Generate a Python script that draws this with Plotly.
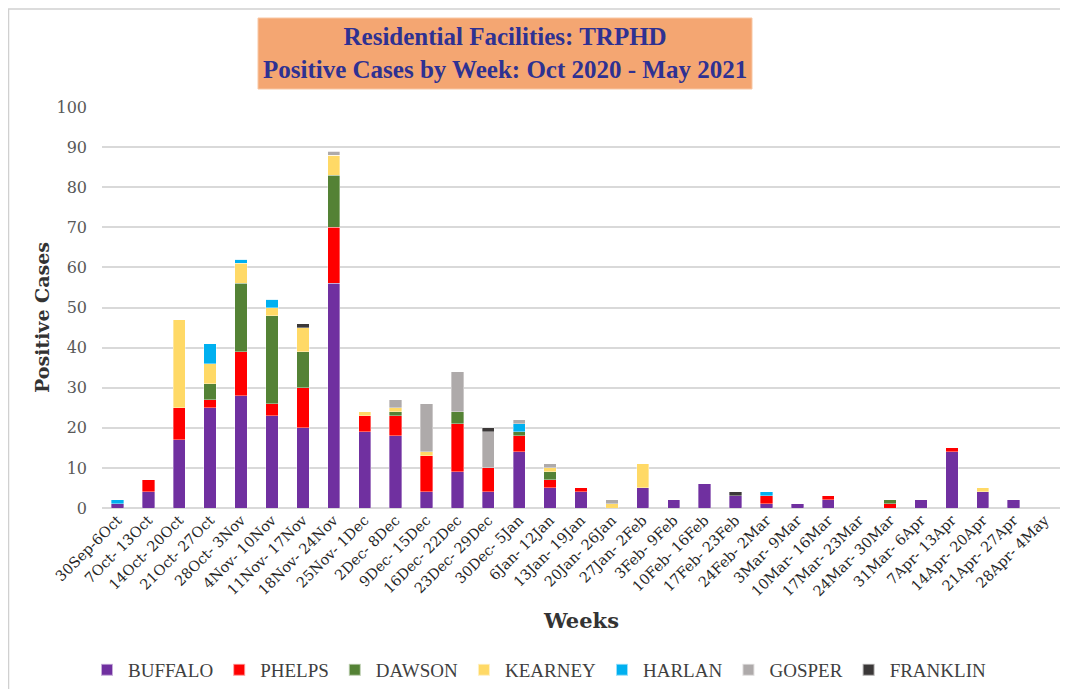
import plotly.graph_objects as go

weeks = ["30Sep-6Oct", "7Oct- 13Oct", "14Oct- 20Oct", "21Oct- 27Oct", "28Oct- 3Nov",
         "4Nov- 10Nov", "11Nov- 17Nov", "18Nov- 24Nov", "25Nov- 1Dec", "2Dec- 8Dec",
         "9Dec- 15Dec", "16Dec- 22Dec", "23Dec- 29Dec", "30Dec- 5Jan", "6Jan- 12Jan",
         "13Jan- 19Jan", "20Jan- 26Jan", "27Jan- 2Feb", "3Feb- 9Feb", "10Feb- 16Feb",
         "17Feb- 23Feb", "24Feb- 2Mar", "3Mar- 9Mar", "10Mar- 16Mar", "17Mar- 23Mar",
         "24Mar- 30Mar", "31Mar- 6Apr", "7Apr- 13Apr", "14Apr- 20Apr", "21Apr- 27Apr",
         "28Apr- 4May"]

buffalo  = [1, 4, 17, 25, 28, 23, 20, 56, 19, 18, 4, 9, 4, 14, 5, 4, 0, 5, 2, 6, 3, 1, 1, 2, 0, 0, 2, 14, 4, 2, 0]
phelps   = [0, 3, 8, 2, 11, 3, 10, 14, 4, 5, 9, 12, 6, 4, 2, 1, 0, 0, 0, 0, 0, 2, 0, 1, 0, 1, 0, 1, 0, 0, 0]
dawson   = [0, 0, 0, 4, 17, 22, 9, 13, 0, 1, 0, 3, 0, 1, 2, 0, 0, 0, 0, 0, 0, 0, 0, 0, 0, 1, 0, 0, 0, 0, 0]
kearney  = [0, 0, 22, 5, 5, 2, 6, 5, 1, 1, 1, 0, 0, 0, 1, 0, 1, 6, 0, 0, 0, 0, 0, 0, 0, 0, 0, 0, 1, 0, 0]
harlan   = [1, 0, 0, 5, 1, 2, 0, 0, 0, 0, 0, 0, 0, 2, 0, 0, 0, 0, 0, 0, 0, 1, 0, 0, 0, 0, 0, 0, 0, 0, 0]
gosper   = [0, 0, 0, 0, 0, 0, 0, 1, 0, 2, 12, 10, 9, 1, 1, 0, 1, 0, 0, 0, 0, 0, 0, 0, 0, 0, 0, 0, 0, 0, 0]
franklin = [0, 0, 0, 0, 0, 0, 1, 0, 0, 0, 0, 0, 1, 0, 0, 0, 0, 0, 0, 0, 1, 0, 0, 0, 0, 0, 0, 0, 0, 0, 0]

series = [
    ("BUFFALO", buffalo, "#7030A0"),
    ("PHELPS", phelps, "#FF0000"),
    ("DAWSON", dawson, "#548235"),
    ("KEARNEY", kearney, "#FFD966"),
    ("HARLAN", harlan, "#00B0F0"),
    ("GOSPER", gosper, "#AEAAAA"),
    ("FRANKLIN", franklin, "#3B3838"),
]

SERIF = "DejaVu Serif, serif"
TIMES = "Liberation Serif, serif"

fig = go.Figure()
for name, vals, col in series:
    fig.add_trace(go.Bar(x=weeks, y=vals, name=name,
                         marker=dict(color=col, line=dict(width=0.6, color="rgba(255,255,255,0.6)"))))

OFF = 8  # page body margin
W, H = 1068 - OFF, 689 - OFF + 12
L, R, T = 102 - OFF, 8, 107 - OFF
B = H - (508 - OFF)
pw, ph = W - L - R, H - T - B

def px(x):
    return (x - OFF - L) / pw

def py(y):
    return (H - B - (y - OFF)) / ph

fig.update_layout(
    width=W, height=H,
    margin=dict(l=L, r=R, t=T, b=B),
    barmode="stack", bargap=0.6,
    plot_bgcolor="white", paper_bgcolor="white",
    showlegend=True,
    legend=dict(orientation="h", x=px(86), xanchor="left", y=py(670), yanchor="middle",
                font=dict(family=TIMES, size=19, color="#404040"),
                traceorder="normal", itemwidth=32, itemsizing="constant"),
    xaxis=dict(tickangle=-45, tickfont=dict(family=SERIF, size=14.5, color="#262626"),
               showgrid=False, showline=False, ticks=""),
    yaxis=dict(range=[0, 100], dtick=10, tickfont=dict(family=SERIF, size=16, color="#595959"),
               showgrid=True, gridcolor="#D9D9D9", gridwidth=1.5, zeroline=True,
               zerolinecolor="#D9D9D9", zerolinewidth=1.5, ticks="", ticklabelstandoff=14),
    font=dict(family=SERIF),
)

# outer chart border (top and left)
fig.add_shape(type="line", xref="paper", yref="paper", x0=px(8), x1=px(1068), y0=py(9), y1=py(9),
              line=dict(color="#D0D0D0", width=1.5))
fig.add_shape(type="line", xref="paper", yref="paper", x0=px(8.5), x1=px(8.5), y0=py(9), y1=py(700),
              line=dict(color="#D0D0D0", width=1.5))

# title box
fig.add_shape(type="rect", xref="paper", yref="paper", x0=px(258), x1=px(752), y0=py(89), y1=py(18),
              fillcolor="#F4A672", line=dict(color="#F8C7A4", width=1), layer="below")
fig.add_annotation(xref="paper", yref="paper", x=px(505), y=py(53), xanchor="center", yanchor="middle",
                   text="<b>Residential Facilities: TRPHD<br>Positive Cases by Week: Oct 2020 - May 2021</b>",
                   showarrow=False, font=dict(family=TIMES, size=25, color="#2E3192"))

fig.add_annotation(xref="paper", yref="paper", x=px(42), y=py(318), xanchor="center", yanchor="middle",
                   text="<b>Positive Cases</b>", textangle=-90, showarrow=False,
                   font=dict(family=SERIF, size=19, color="#333333"))
fig.add_annotation(xref="paper", yref="paper", x=px(581), y=py(620), xanchor="center", yanchor="middle",
                   text="<b>Weeks</b>", showarrow=False,
                   font=dict(family=SERIF, size=21, color="#333333"))

fig.write_html("out.html")
